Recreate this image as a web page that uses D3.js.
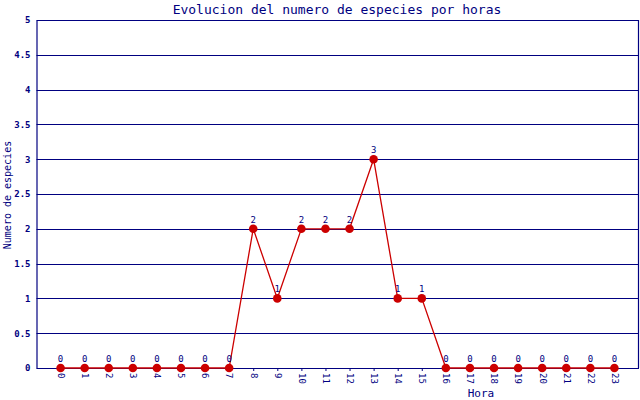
<!DOCTYPE html>
<html>
<head>
<meta charset="utf-8">
<script src="https://cdn.jsdelivr.net/npm/d3@7"></script>
<style>
  body { margin: 0; background: #fff; }
  text { font-family: "DejaVu Sans Mono", monospace; fill: #000080; }
</style>
</head>
<body>
<div id="chart"></div>
<script>
// horas del dia y numero de especies
var horas = [0, 1, 2, 3, 4, 5, 6, 7, 8, 9, 10, 11, 12, 13, 14, 15, 16, 17, 18, 19, 20, 21, 22, 23];
var especies = [0, 0, 0, 0, 0, 0, 0, 0, 2, 1, 2, 2, 2, 3, 1, 1, 0, 0, 0, 0, 0, 0, 0, 0];
var yTicks = [0, 0.5, 1, 1.5, 2, 2.5, 3, 3.5, 4, 4.5, 5];

var W = 640, H = 400;
var margin = {top: 20, right: 1.5, bottom: 32, left: 36.5},
    width = W - margin.left - margin.right,
    height = H - margin.top - margin.bottom;

var navy = "#000080", red = "#cc0000";

var svg = d3.select("#chart").append("svg")
    .attr("width", W).attr("height", H);

var g = svg.append("g")
    .attr("transform", "translate(" + margin.left + "," + margin.top + ")");

var x = d3.scaleLinear().domain([-1, 24]).range([0, width]);
var y = d3.scaleLinear().domain([0, 5]).range([height, 0]);

// grid lines
g.selectAll(".grid").data(yTicks).enter().append("line")
  .attr("x1", 0).attr("x2", width)
  .attr("y1", function(d) { return Math.round(y(d)) + 0.5; })
  .attr("y2", function(d) { return Math.round(y(d)) + 0.5; })
  .attr("stroke", navy).attr("stroke-width", 1.2);

// right border
g.append("line")
  .attr("x1", width).attr("x2", width).attr("y1", 0).attr("y2", height)
  .attr("stroke", navy).attr("stroke-width", 1.2);

// y axis
var yAxis = g.append("g")
  .call(d3.axisLeft(y).tickValues(yTicks).tickSize(0).tickPadding(6).tickFormat(function(d) { return d; }));
yAxis.select(".domain").attr("stroke", navy).attr("stroke-width", 1.2);
yAxis.selectAll("text").style("font-size", "9px").style("font-weight", "bold").attr("fill", navy);

// x axis
var xAxis = g.append("g")
  .attr("transform", "translate(0," + height + ")")
  .call(d3.axisBottom(x).tickValues(horas).tickSize(3).tickSizeOuter(0).tickFormat(function(d) { return d; }));
xAxis.select(".domain").attr("stroke", navy).attr("stroke-width", 1.2);
xAxis.selectAll("line").attr("stroke", navy);
xAxis.selectAll("text")
  .attr("transform", "rotate(90)")
  .attr("x", 5).attr("y", 0).attr("dy", "0.35em")
  .style("text-anchor", "start")
  .style("font-size", "9px").attr("fill", navy);

// line
var line = d3.line()
  .x(function(d, i) { return x(horas[i]); })
  .y(function(d) { return y(d); });

g.append("path")
  .datum(especies)
  .attr("fill", "none").attr("stroke", red).attr("stroke-width", 1.3)
  .attr("d", line);

// points
g.selectAll(".pt").data(especies).enter().append("circle")
  .attr("cx", function(d, i) { return x(horas[i]); })
  .attr("cy", function(d) { return y(d); })
  .attr("r", 4.3)
  .attr("fill", red);

// value labels
g.selectAll(".val").data(especies).enter().append("text")
  .attr("x", function(d, i) { return x(horas[i]); })
  .attr("y", function(d) { return y(d) - 6; })
  .attr("text-anchor", "middle")
  .style("font-size", "9px")
  .text(function(d) { return d; });

// title
svg.append("text")
  .attr("x", 337).attr("y", 14)
  .attr("text-anchor", "middle")
  .style("font-size", "13px")
  .text("Evolucion del numero de especies por horas");

// axis titles
svg.append("text")
  .attr("transform", "translate(11,195) rotate(-90)")
  .attr("text-anchor", "middle")
  .style("font-size", "10px")
  .text("Numero de especies");

svg.append("text")
  .attr("x", 481).attr("y", 397)
  .attr("text-anchor", "middle")
  .style("font-size", "11px")
  .text("Hora");
</script>
</body>
</html>
